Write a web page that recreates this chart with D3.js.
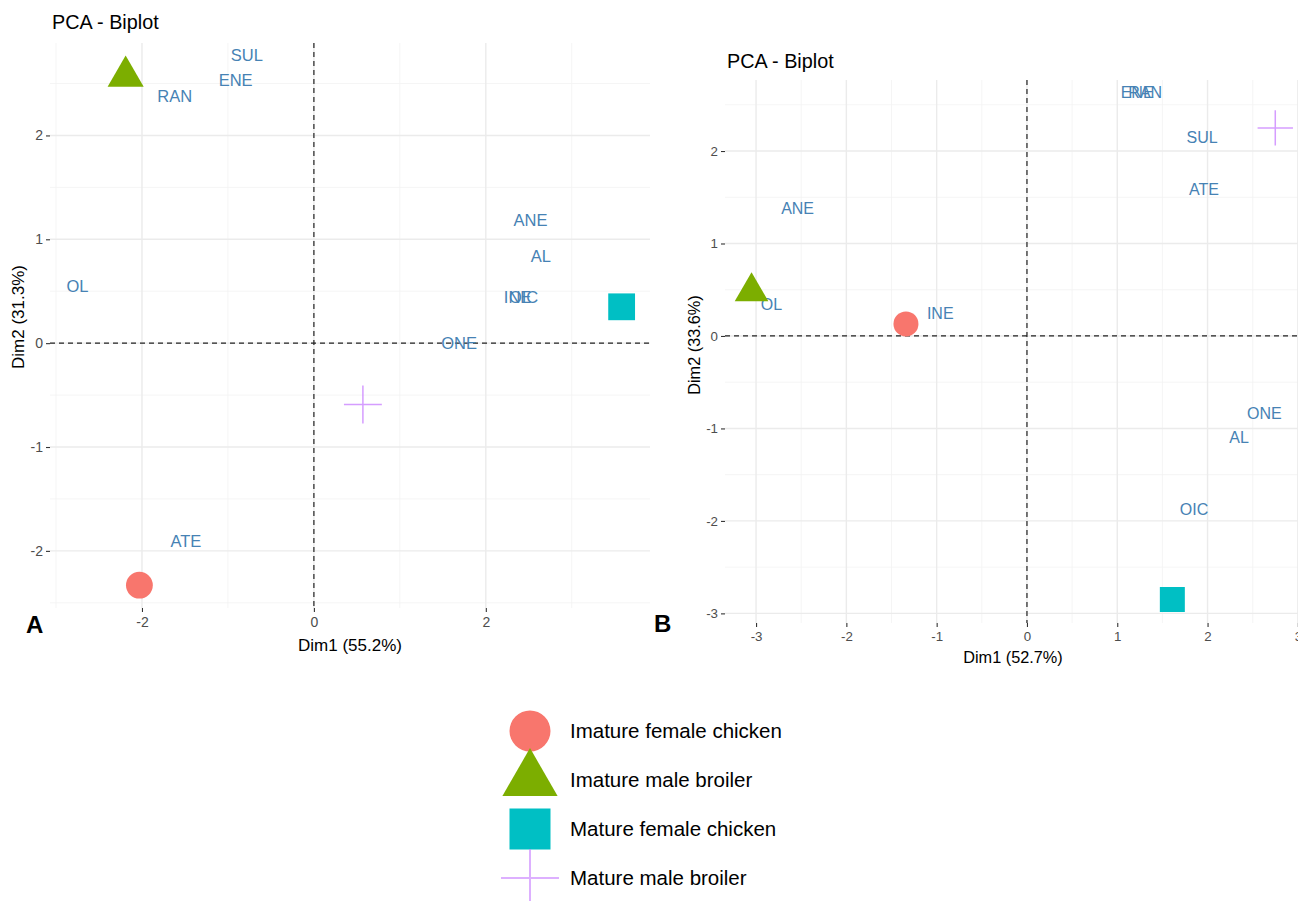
<!DOCTYPE html>
<html>
<head>
<meta charset="utf-8">
<script src="https://cdn.jsdelivr.net/npm/d3@7"></script>
<style>
  html, body { margin: 0; padding: 0; background: #fff; }
  svg { display: block; font-family: "Liberation Sans", Arial, Helvetica, sans-serif; }
</style>
</head>
<body>
<svg id="chart" width="1298" height="901"></svg>
<script>
// Groups (individuals) and their colours / shapes
const groups = ["Imature female chicken", "Imature male broiler", "Mature female chicken", "Mature male broiler"];
const groupColors = ["#F8766D", "#7CAE00", "#00BFC4", "#C77CFF"];
const groupShapes = ["circle", "triangle", "square", "cross"];

// Panel A: individual coordinates
const indAx = [-2.03, -2.19, 3.58, 0.57];
const indAy = [-2.33, 2.57, 0.35, -0.59];
// Panel A: variable label coordinates
const varNamesA = ["SUL", "ENE", "RAN", "ANE", "AL", "OL", "INE", "OIC", "ONE", "ATE"];
const varAx = [-0.78, -0.91, -1.62, 2.52, 2.64, -2.75, 2.37, 2.44, 1.69, -1.49];
const varAy = [2.77, 2.53, 2.38, 1.19, 0.84, 0.55, 0.44, 0.44, 0.00, -1.91];
const ticksAx = [-2, 0, 2];
const ticksAy = [-2, -1, 0, 1, 2];
const minorAx = [-3, -1, 1, 3];
const minorAy = [-2.5, -1.5, -0.5, 0.5, 1.5, 2.5];

// Panel B: individual coordinates
const indBx = [-1.34, -3.05, 1.61, 2.75];
const indBy = [0.13, 0.48, -2.85, 2.25];
// Panel B: variable label coordinates
const varNamesB = ["ENE", "RAN", "SUL", "ATE", "ANE", "OL", "INE", "ONE", "AL", "OIC"];
const varBx = [1.22, 1.31, 1.94, 1.96, -2.54, -2.83, -0.96, 2.63, 2.35, 1.85];
const varBy = [2.64, 2.64, 2.15, 1.59, 1.38, 0.34, 0.25, -0.84, -1.09, -1.87];
const ticksBx = [-3, -2, -1, 0, 1, 2, 3];
const ticksBy = [-3, -2, -1, 0, 1, 2];
const minorBx = [-2.5, -1.5, -0.5, 0.5, 1.5, 2.5];
const minorBy = [-2.5, -1.5, -0.5, 0.5, 1.5, 2.5];

const svg = d3.select("#chart");

// Symbol paths following R's pch geometry (s = base radius)
function shapePath(shape, s) {
  const p = d3.path();
  if (shape === "circle") {
    p.arc(0, 0, s, 0, 2 * Math.PI);
  } else if (shape === "triangle") {
    const r = 1.55512 * s, yc = 0.77756 * s, xc = 1.34677 * s;
    p.moveTo(0, -r); p.lineTo(xc, yc); p.lineTo(-xc, yc); p.closePath();
  } else if (shape === "square") {
    p.rect(-s, -s, 2 * s, 2 * s);
  } else {
    const h = Math.SQRT2 * s;
    p.moveTo(-h, 0); p.lineTo(h, 0); p.moveTo(0, -h); p.lineTo(0, h);
  }
  return p.toString();
}

function drawSymbol(g, shape, color, s, x, y, crossWidth, crossOpacity) {
  const el = g.append("path")
    .attr("d", shapePath(shape, s))
    .attr("transform", `translate(${x},${y})`);
  if (shape === "cross") {
    el.attr("fill", "none").attr("stroke", color)
      .attr("stroke-width", crossWidth).attr("stroke-opacity", crossOpacity);
  } else {
    el.attr("fill", color);
  }
}

function panel(cfg) {
  const x = d3.scaleLinear().domain(cfg.xDomain).range([cfg.left, cfg.right]);
  const y = d3.scaleLinear().domain(cfg.yDomain).range([cfg.bottom, cfg.top]);
  const g = svg.append("g");

  // minor grid
  g.append("g").selectAll("line").data(cfg.minorX).join("line")
    .attr("x1", d => x(d)).attr("x2", d => x(d))
    .attr("y1", cfg.top).attr("y2", cfg.bottom)
    .attr("stroke", "#F2F2F2").attr("stroke-width", 0.8);
  g.append("g").selectAll("line").data(cfg.minorY).join("line")
    .attr("y1", d => y(d)).attr("y2", d => y(d))
    .attr("x1", cfg.left).attr("x2", cfg.right)
    .attr("stroke", "#F2F2F2").attr("stroke-width", 0.8);
  // major grid
  g.append("g").selectAll("line").data(cfg.ticksX).join("line")
    .attr("x1", d => x(d)).attr("x2", d => x(d))
    .attr("y1", cfg.top).attr("y2", cfg.bottom)
    .attr("stroke", "#EBEBEB").attr("stroke-width", 1.4);
  g.append("g").selectAll("line").data(cfg.ticksY).join("line")
    .attr("y1", d => y(d)).attr("y2", d => y(d))
    .attr("x1", cfg.left).attr("x2", cfg.right)
    .attr("stroke", "#EBEBEB").attr("stroke-width", 1.4);

  // axes (ticks + labels, no domain line)
  const fmt = d => d3.format("d")(d).replace("\u2212", "-");
  const xAxis = g.append("g").attr("transform", `translate(0,${cfg.bottom})`)
    .call(d3.axisBottom(x).tickValues(cfg.ticksX).tickSize(4).tickPadding(5).tickFormat(fmt));
  const yAxis = g.append("g").attr("transform", `translate(${cfg.left},0)`)
    .call(d3.axisLeft(y).tickValues(cfg.ticksY).tickSize(4).tickPadding(3).tickFormat(fmt));
  [xAxis, yAxis].forEach(a => {
    a.select(".domain").remove();
    a.selectAll(".tick line").attr("stroke", "#333").attr("stroke-width", 1.1);
    a.selectAll(".tick text").attr("fill", "#4D4D4D")
      .style("font-size", cfg.tickFont + "px")
      .style("font-family", "Liberation Sans, Arial, sans-serif");
  });

  // reference lines through the origin
  g.append("line").attr("x1", x(0)).attr("x2", x(0)).attr("y1", cfg.top).attr("y2", cfg.bottom)
    .attr("stroke", "#222").attr("stroke-width", 1.2).attr("stroke-dasharray", "5,4");
  g.append("line").attr("y1", y(0)).attr("y2", y(0)).attr("x1", cfg.left).attr("x2", cfg.right)
    .attr("stroke", "#222").attr("stroke-width", 1.2).attr("stroke-dasharray", "5,4");

  // variable labels
  g.append("g").selectAll("text").data(cfg.varNames).join("text")
    .attr("x", (d, i) => x(cfg.varX[i]))
    .attr("y", (d, i) => y(cfg.varY[i]))
    .attr("dy", "0.36em")
    .attr("text-anchor", "middle")
    .attr("fill", "#4682B4")
    .style("font-size", cfg.labelFont + "px")
    .text(d => d);

  // individuals
  const pts = g.append("g");
  groups.forEach((grp, i) => {
    drawSymbol(pts, groupShapes[i], groupColors[i], cfg.symbolSize,
      x(cfg.indX[i]), y(cfg.indY[i]), 1.5, 0.75);
  });

  // titles
  g.append("text").attr("x", cfg.left + 2).attr("y", cfg.titleY)
    .style("font-size", cfg.titleFont + "px").attr("fill", "#000").text("PCA - Biplot");
  g.append("text").attr("x", cfg.xTitleX).attr("y", cfg.xTitleY)
    .attr("text-anchor", "middle").style("font-size", cfg.axisFont + "px").attr("fill", "#000")
    .text(cfg.xTitle);
  g.append("text").attr("transform", `translate(${cfg.yTitleX},${cfg.yTitleY}) rotate(-90)`)
    .attr("text-anchor", "middle").style("font-size", cfg.axisFont + "px").attr("fill", "#000")
    .text(cfg.yTitle);
  g.append("text").attr("x", cfg.tagX).attr("y", cfg.tagY)
    .style("font-size", "24px").style("font-weight", "bold").attr("fill", "#000")
    .style("font-family", "Liberation Sans, Arial, sans-serif")
    .text(cfg.tag);
}

panel({
  left: 50, right: 650, top: 43, bottom: 608,
  xDomain: [-3.07, 3.91], yDomain: [-2.55, 2.89],
  ticksX: ticksAx, ticksY: ticksAy, minorX: minorAx, minorY: minorAy,
  varNames: varNamesA, varX: varAx, varY: varAy,
  indX: indAx, indY: indAy,
  symbolSize: 13.4, labelFont: 16.5, tickFont: 14, titleFont: 19.8, axisFont: 17,
  titleY: 29, xTitle: "Dim1 (55.2%)", xTitleX: 350, xTitleY: 651,
  yTitle: "Dim2 (31.3%)", yTitleX: 24, yTitleY: 317,
  tag: "A", tagX: 26, tagY: 633
});

panel({
  left: 725, right: 1330, top: 80, bottom: 623,
  xDomain: [-3.344, 3.356], yDomain: [-3.104, 2.768],
  ticksX: ticksBx, ticksY: ticksBy, minorX: minorBx, minorY: minorBy,
  varNames: varNamesB, varX: varBx, varY: varBy,
  indX: indBx, indY: indBy,
  symbolSize: 12.5, labelFont: 16, tickFont: 13.3, titleFont: 19.8, axisFont: 16.3,
  titleY: 68, xTitle: "Dim1 (52.7%)", xTitleX: 1013, xTitleY: 663,
  yTitle: "Dim2 (33.6%)", yTitleX: 700, yTitleY: 345,
  tag: "B", tagX: 654, tagY: 632
});

// legend
const legend = svg.append("g").attr("transform", "translate(530,0)");
const legendY = d3.scalePoint().domain(groups).range([731, 878]);
groups.forEach((grp, i) => {
  drawSymbol(legend, groupShapes[i], groupColors[i], 20.5, 0, legendY(grp), 2, 0.6);
  legend.append("text").attr("x", 40).attr("y", legendY(grp)).attr("dy", "0.36em")
    .style("font-size", "20.5px").attr("fill", "#000").text(grp);
});
</script>
</body>
</html>
